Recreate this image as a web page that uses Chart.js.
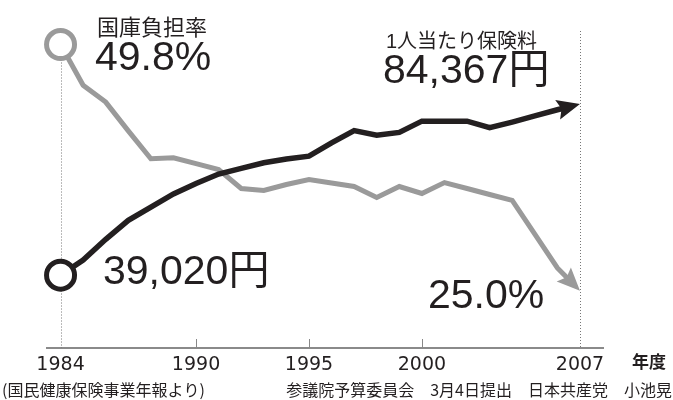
<!DOCTYPE html>
<html><head><meta charset="utf-8">
<script src="https://cdn.jsdelivr.net/npm/chart.js@4/dist/chart.umd.min.js"></script>
<style>html,body{margin:0;padding:0;background:#fff}canvas{display:block}</style>
</head><body>
<canvas id="c" width="673" height="400"></canvas>
<script>
// ---- data ----
const years = [1984,1985,1986,1987,1988,1989,1990,1991,1992,1993,1994,1995,1996,1997,1998,1999,2000,2001,2002,2003,2004,2005,2006,2007];
const subsidyRate = [49.8,45.7,44.0,41.1,38.3,38.4,37.8,37.2,35.3,35.1,35.7,36.2,35.85,35.5,34.4,35.5,34.8,35.9,35.3,34.7,34.1,30.7,27.3,25.0];
const premiumPerPerson = [39020,43030,48540,53550,57060,60560,63320,65820,67330,68830,69830,70580,74090,77350,76100,76850,79850,79850,79850,78100,79600,81230,82860,84367];
const xTickYears = [1984,1990,1995,2000,2007];
const labelRate = '国庫負担率';
const labelPremium = '1人当たり保険料';
const rateStartText = '49.8%';
const rateEndText = '25.0%';
const premiumStartText = '39,020円';
const premiumEndText = '84,367円';
const unitText = '年度';
const sourceText = '(国民健康保険事業年報より)';
const creditText = '参議院予算委員会　3月4日提出　日本共産党　小池晃';

const BLACK = '#231f20', GRAY = '#9a9a9a';
const JP = '"Noto Sans CJK JP"';
const NUM = '"Liberation Sans", "Noto Sans CJK JP"';

function arrowGeom(meta){
  const pts = meta.data, n = pts.length;
  const tip = pts[n-1], prev = pts[n-2];
  const dx = tip.x - prev.x, dy = tip.y - prev.y, len = Math.hypot(dx, dy);
  const ux = dx/len, uy = dy/len;
  return {tx: tip.x, ty: tip.y, ux, uy, px: -uy, py: ux};
}
const AL = 23, AW = 10, NOTCH = 4;

const decor = {
  id: 'decor',
  beforeDatasetsDraw(chart){
    const ctx = chart.ctx, xs = chart.scales.x, ca = chart.chartArea;
    ctx.save();
    ctx.strokeStyle = '#777'; ctx.lineWidth = 1; ctx.setLineDash([1,2]);
    const g = chart.getDatasetMeta(1).data[0];
    const x0 = Math.round(xs.getPixelForValue(xTickYears[0])) + 0.5;
    ctx.beginPath(); ctx.moveTo(x0, g.y); ctx.lineTo(x0, ca.bottom); ctx.stroke();
    const x1 = Math.round(xs.getPixelForValue(xTickYears[xTickYears.length-1])) + 0.5;
    ctx.beginPath(); ctx.moveTo(x1, ca.top + 12); ctx.lineTo(x1, ca.bottom); ctx.stroke();
    ctx.setLineDash([]);
    ctx.strokeStyle = '#888';
    xTickYears.slice(1, -1).forEach(v => {
      const x = Math.round(xs.getPixelForValue(v)) + 0.5;
      ctx.beginPath(); ctx.moveTo(x, ca.bottom); ctx.lineTo(x, ca.bottom - 9); ctx.stroke();
    });
    ctx.restore();
  },
  beforeDatasetDraw(chart, args){
    const ctx = chart.ctx;
    const a = arrowGeom(args.meta);
    const b0 = AL - 5, b1 = -20, w = 12;
    ctx.save();
    ctx.beginPath();
    ctx.rect(0, 0, chart.width, chart.height);
    const P = (d, o) => [a.tx - d*a.ux + o*a.px, a.ty - d*a.uy + o*a.py];
    const q = [P(b0, w), P(b1, w), P(b1, -w), P(b0, -w)];
    ctx.moveTo(q[0][0], q[0][1]);
    for (let i = 1; i < 4; i++) ctx.lineTo(q[i][0], q[i][1]);
    ctx.closePath();
    ctx.clip('evenodd');
  },
  afterDatasetDraw(chart, args){
    const ctx = chart.ctx;
    ctx.restore();
    const a = arrowGeom(args.meta);
    const P = (d, o) => [a.tx - d*a.ux + o*a.px, a.ty - d*a.uy + o*a.py];
    const pts = [P(0,0), P(AL, AW), P(AL - NOTCH, 0), P(AL, -AW)];
    ctx.save();
    ctx.fillStyle = args.meta.dataset.options.borderColor;
    ctx.beginPath();
    ctx.moveTo(pts[0][0], pts[0][1]);
    for (let i = 1; i < 4; i++) ctx.lineTo(pts[i][0], pts[i][1]);
    ctx.closePath(); ctx.fill();
    ctx.restore();
  },
  afterDraw(chart){
    const ctx = chart.ctx;
    ctx.save();
    ctx.fillStyle = BLACK;
    ctx.textBaseline = 'alphabetic';
    const T = (s, x, y, f, al) => { ctx.font = f; ctx.textAlign = al || 'left'; ctx.fillText(s, x, y); };
    T(labelRate, 97, 35, `22px ${JP}`);
    T(rateStartText, 95, 70, `41px ${NUM}`);
    T(labelPremium, 386, 48, `20px "Liberation Sans", ${JP}`);
    T(premiumEndText, 383, 83, `41px ${NUM}`);
    T(premiumStartText, 103, 284, `41px ${NUM}`);
    T(rateEndText, 428, 308, `41px ${NUM}`);
    T(unitText, 632, 368, `bold 17px ${JP}`);
    T(sourceText, 2, 396, `16px ${JP}`);
    T(creditText, 672, 396, `16px ${JP}`, 'right');
    ctx.restore();
  }
};

const firstOnly = (r) => (ctx) => ctx.dataIndex === 0 ? r : 0;

new Chart(document.getElementById('c'), {
  type: 'line',
  data: {
    datasets: [
      {
        label: labelPremium,
        data: years.map((y, i) => ({x: y, y: premiumPerPerson[i]})),
        yAxisID: 'yY',
        borderColor: BLACK, borderWidth: 5.5,
        pointRadius: firstOnly(14), pointHoverRadius: 0,
        pointBorderWidth: 5, pointBorderColor: BLACK, pointBackgroundColor: '#fff',
        tension: 0, clip: false, order: 0
      },
      {
        label: labelRate,
        data: years.map((y, i) => ({x: y, y: subsidyRate[i]})),
        yAxisID: 'yP',
        borderColor: GRAY, borderWidth: 5,
        pointRadius: firstOnly(14), pointHoverRadius: 0,
        pointBorderWidth: 5, pointBorderColor: GRAY, pointBackgroundColor: '#fff',
        tension: 0, clip: false, order: 1
      }
    ]
  },
  options: {
    responsive: false, animation: false, devicePixelRatio: 1,
    layout: {padding: {left: 47, right: 70, top: 0, bottom: 0}},
    plugins: {legend: {display: false}, tooltip: {enabled: false}},
    events: [],
    scales: {
      x: {
        type: 'linear', min: 1983.40, max: 2008.02,
        afterBuildTicks: s => { s.ticks = xTickYears.map(v => ({value: v})); },
        afterFit: s => { s.height = 52; },
        grid: {display: false, drawTicks: false},
        border: {display: true, color: '#8a8a8a', width: 2},
        ticks: {
          autoSkip: false, maxRotation: 0, padding: 6,
          color: BLACK, font: {family: '"DejaVu Sans"', size: 19},
          callback: v => String(v)
        }
      },
      yP: {type: 'linear', display: false, min: 19.24, max: 52.37},
      yY: {type: 'linear', display: false, min: 19728, max: 106916}
    }
  },
  plugins: [decor]
});
</script>
</body></html>
